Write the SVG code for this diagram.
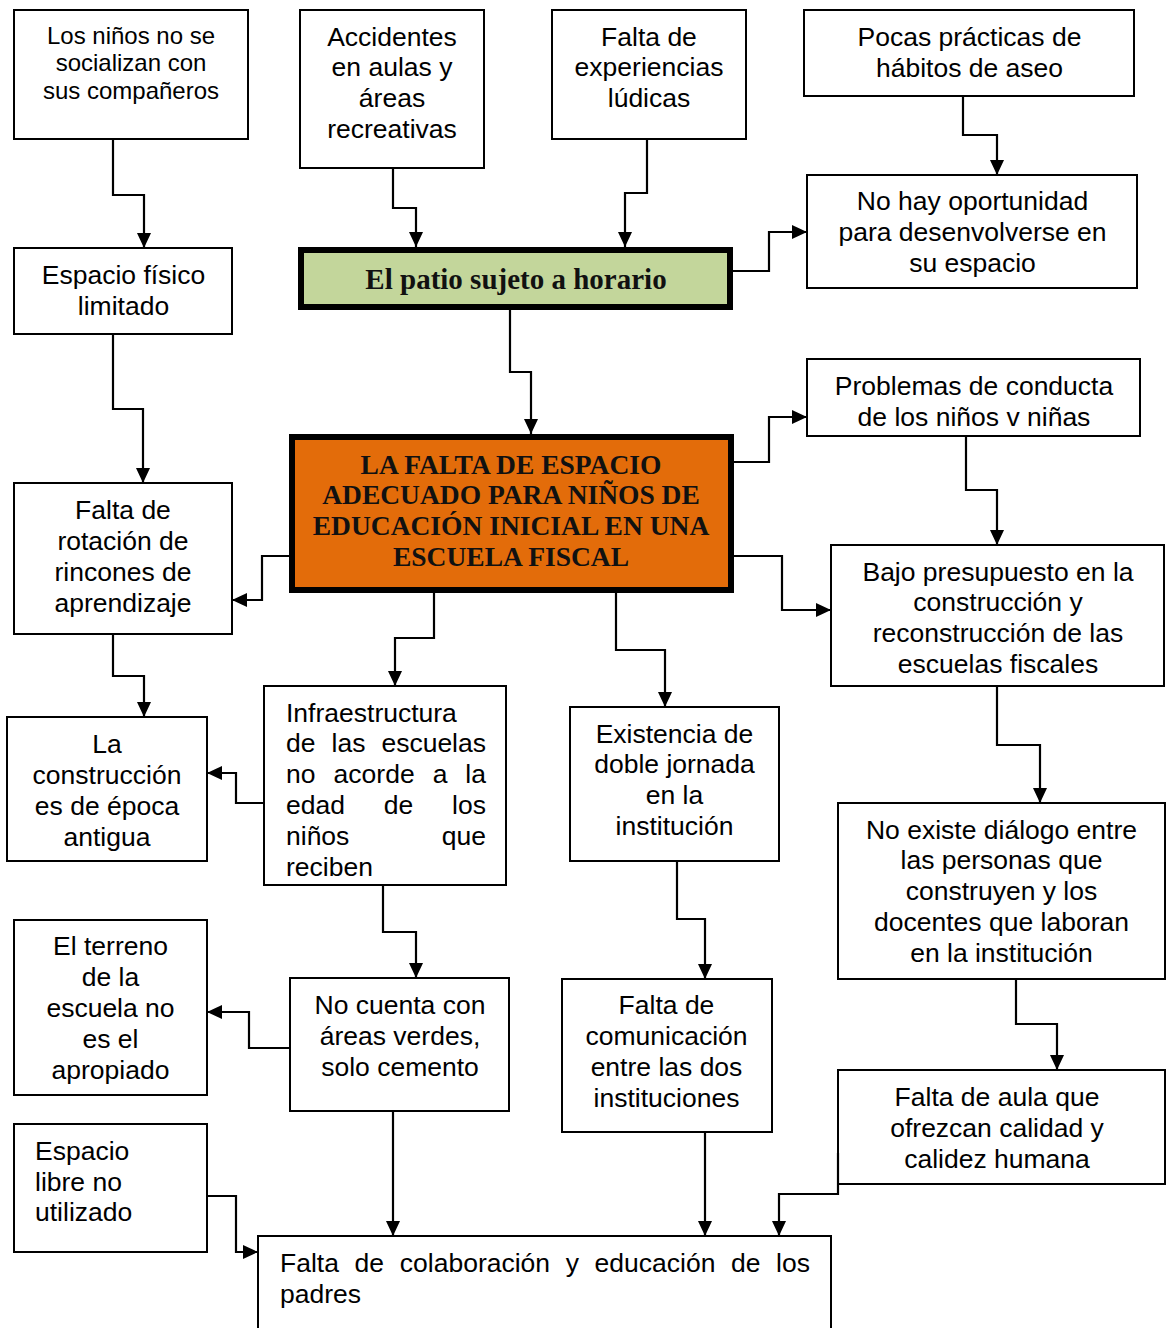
<svg xmlns="http://www.w3.org/2000/svg" width="1167" height="1328" viewBox="0 0 1167 1328">
<style>
.box{fill:#fff;stroke:#000;stroke-width:2}
.t{font-family:"Liberation Sans",Arial,sans-serif;font-size:26.5px;fill:#000;text-anchor:middle}
.s{font-size:24px}
.l{text-anchor:start}
.e{text-anchor:end}
.b{font-family:"Liberation Serif","Times New Roman",serif;font-weight:bold;fill:#111;text-anchor:middle}
#conn path{fill:none;stroke:#000;stroke-width:2.2;marker-end:url(#ah)}
</style>
<defs>
<marker id="ah" markerUnits="userSpaceOnUse" markerWidth="16" markerHeight="14" refX="15" refY="7" orient="auto">
<path d="M0,0 L15,7 L0,14 z" fill="#000"/>
</marker>
<clipPath id="clipInfra"><rect x="264" y="686" width="242" height="190"/></clipPath>
</defs>
<rect width="1167" height="1328" fill="#fff"/>

<g id="n1"><rect class="box" x="14" y="10" width="234" height="129"/>
<text class="t s" x="131" y="44">Los niños no se</text>
<text class="t s" x="131" y="71">socializan con</text>
<text class="t s" x="131" y="99">sus compañeros</text></g>

<g id="n2"><rect class="box" x="300" y="10" width="184" height="158"/>
<text class="t" x="392" y="45.5">Accidentes</text>
<text class="t" x="392" y="75.5">en aulas y</text>
<text class="t" x="392" y="106.5">áreas</text>
<text class="t" x="392" y="137.5">recreativas</text></g>

<g id="n3"><rect class="box" x="552" y="10" width="194" height="129"/>
<text class="t" x="649" y="45.5">Falta de</text>
<text class="t" x="649" y="75.5">experiencias</text>
<text class="t" x="649" y="106.5">lúdicas</text></g>

<g id="n4"><rect class="box" x="804" y="10" width="330" height="86"/>
<text class="t" x="969.5" y="45.5">Pocas prácticas de</text>
<text class="t" x="969.5" y="76.5">hábitos de aseo</text></g>

<g id="n5"><rect class="box" x="807" y="175" width="330" height="113"/>
<text class="t" x="972.5" y="209.5">No hay oportunidad</text>
<text class="t" x="972.5" y="240.5">para desenvolverse en</text>
<text class="t" x="972.5" y="271.5">su espacio</text></g>

<g id="n6"><rect class="box" x="14" y="248" width="218" height="86"/>
<text class="t" x="123.5" y="283.5">Espacio físico</text>
<text class="t" x="123.5" y="314.5">limitado</text></g>

<g id="n7"><rect x="301" y="250" width="429" height="57" fill="#C3D69B" stroke="#000" stroke-width="6"/>
<text class="b" x="516" y="289" font-size="29">El patio sujeto a horario</text></g>

<g id="n8"><rect class="box" x="807" y="359" width="333" height="77"/>
<text class="t" x="974" y="394.5">Problemas de conducta</text>
<text class="t" x="974" y="425.5">de los niños v niñas</text></g>

<g id="n9"><rect x="292" y="437" width="439" height="153" fill="#E36C0A" stroke="#000" stroke-width="6"/>
<text class="b" x="511" y="474" font-size="27.5">LA FALTA DE ESPACIO</text>
<text class="b" x="511" y="504" font-size="27.5">ADECUADO PARA NIÑOS DE</text>
<text class="b" x="511" y="535" font-size="27.5">EDUCACIÓN INICIAL EN UNA</text>
<text class="b" x="511" y="566" font-size="27.5">ESCUELA FISCAL</text></g>

<g id="n10"><rect class="box" x="14" y="483" width="218" height="151"/>
<text class="t" x="123" y="518.5">Falta de</text>
<text class="t" x="123" y="549.5">rotación de</text>
<text class="t" x="123" y="580.5">rincones de</text>
<text class="t" x="123" y="611.5">aprendizaje</text></g>

<g id="n11"><rect class="box" x="831" y="545" width="333" height="141"/>
<text class="t" x="998" y="580.5">Bajo presupuesto en la</text>
<text class="t" x="998" y="610.5">construcción y</text>
<text class="t" x="998" y="641.5">reconstrucción de las</text>
<text class="t" x="998" y="672.5">escuelas fiscales</text></g>

<g id="n12"><rect class="box" x="7" y="717" width="200" height="144"/>
<text class="t" x="107" y="752.5">La</text>
<text class="t" x="107" y="783.5">construcción</text>
<text class="t" x="107" y="814.5">es de época</text>
<text class="t" x="107" y="845.5">antigua</text></g>

<g id="n13"><rect class="box" x="264" y="686" width="242" height="199"/>
<g clip-path="url(#clipInfra)">
<text class="t l" x="286" y="721.5">Infraestructura</text>
<text class="t l" x="286" y="751.5">de</text><text class="t l" x="331.5" y="751.5">las</text><text class="t e" x="486" y="751.5">escuelas</text>
<text class="t l" x="286" y="782.5">no</text><text class="t l" x="333.6" y="782.5">acorde</text><text class="t l" x="432.7" y="782.5">a</text><text class="t e" x="486" y="782.5">la</text>
<text class="t l" x="286" y="813.5">edad</text><text class="t l" x="383.8" y="813.5">de</text><text class="t e" x="486" y="813.5">los</text>
<text class="t l" x="286" y="844.5">niños</text><text class="t e" x="486" y="844.5">que</text>
<text class="t l" x="286" y="875.5">reciben</text>
</g></g>

<g id="n14"><rect class="box" x="570" y="707" width="209" height="154"/>
<text class="t" x="674.5" y="742.5">Existencia de</text>
<text class="t" x="674.5" y="772.5">doble jornada</text>
<text class="t" x="674.5" y="803.5">en la</text>
<text class="t" x="674.5" y="834.5">institución</text></g>

<g id="n15"><rect class="box" x="838" y="803" width="327" height="176"/>
<text class="t" x="1001.5" y="838.5">No existe diálogo entre</text>
<text class="t" x="1001.5" y="868.5">las personas que</text>
<text class="t" x="1001.5" y="899.5">construyen y los</text>
<text class="t" x="1001.5" y="930.5">docentes que laboran</text>
<text class="t" x="1001.5" y="961.5">en la institución</text></g>

<g id="n16"><rect class="box" x="14" y="920" width="193" height="175"/>
<text class="t" x="110.5" y="954.5">El terreno</text>
<text class="t" x="110.5" y="985.5">de la</text>
<text class="t" x="110.5" y="1016.5">escuela no</text>
<text class="t" x="110.5" y="1047.5">es el</text>
<text class="t" x="110.5" y="1078.5">apropiado</text></g>

<g id="n17"><rect class="box" x="290" y="978" width="219" height="133"/>
<text class="t" x="400" y="1013.5">No cuenta con</text>
<text class="t" x="400" y="1044.5">áreas verdes,</text>
<text class="t" x="400" y="1075.5">solo cemento</text></g>

<g id="n18"><rect class="box" x="562" y="979" width="210" height="153"/>
<text class="t" x="666.5" y="1013.5">Falta de</text>
<text class="t" x="666.5" y="1044.5">comunicación</text>
<text class="t" x="666.5" y="1075.5">entre las dos</text>
<text class="t" x="666.5" y="1106.5">instituciones</text></g>

<g id="n19"><rect class="box" x="838" y="1070" width="327" height="114"/>
<text class="t" x="997" y="1105.5">Falta de aula que</text>
<text class="t" x="997" y="1136.5">ofrezcan calidad y</text>
<text class="t" x="997" y="1167.5">calidez humana</text></g>

<g id="n20"><rect class="box" x="14" y="1124" width="193" height="128"/>
<text class="t l" x="35" y="1159.5">Espacio</text>
<text class="t l" x="35" y="1190.5">libre no</text>
<text class="t l" x="35" y="1220.5">utilizado</text></g>

<g id="n21"><rect class="box" x="258" y="1236" width="573" height="110"/>
<text class="t l" x="280" y="1271.5">Falta</text><text class="t l" x="354.6" y="1271.5">de</text><text class="t l" x="399.8" y="1271.5">colaboración</text><text class="t l" x="565.7" y="1271.5">y</text><text class="t l" x="594.6" y="1271.5">educación</text><text class="t l" x="731.1" y="1271.5">de</text><text class="t e" x="810" y="1271.5">los</text>
<text class="t l" x="280" y="1302.5">padres</text></g>

<g id="conn">
<path d="M113,139 V195 H144 V248"/>
<path d="M393,168 V208 H416 V247"/>
<path d="M647,139 V193 H625 V247"/>
<path d="M963,96 V135 H997 V175"/>
<path d="M733,271 H769 V232 H807"/>
<path d="M510,310 V372 H531 V434"/>
<path d="M113,334 V409 H143 V483"/>
<path d="M289,556 H262 V600 H232"/>
<path d="M734,462 H769 V417 H807"/>
<path d="M966,436 V490 H997 V545"/>
<path d="M734,556 H782 V610 H831"/>
<path d="M434,593 V638 H395 V686"/>
<path d="M616,593 V650 H665 V707"/>
<path d="M113,634 V676 H144 V717"/>
<path d="M264,803 H236 V773 H207"/>
<path d="M383,885 V932 H416 V978"/>
<path d="M997,686 V745 H1040 V803"/>
<path d="M677,861 V919 H705 V979"/>
<path d="M1016,979 V1024 H1057 V1070"/>
<path d="M290,1048 H249 V1012 H207"/>
<path d="M393,1111 V1236"/>
<path d="M207,1196 H236 V1252 H258"/>
<path d="M705,1132 V1236"/>
<path d="M838,1153 V1194 H779 V1236"/>
</g>
</svg>
